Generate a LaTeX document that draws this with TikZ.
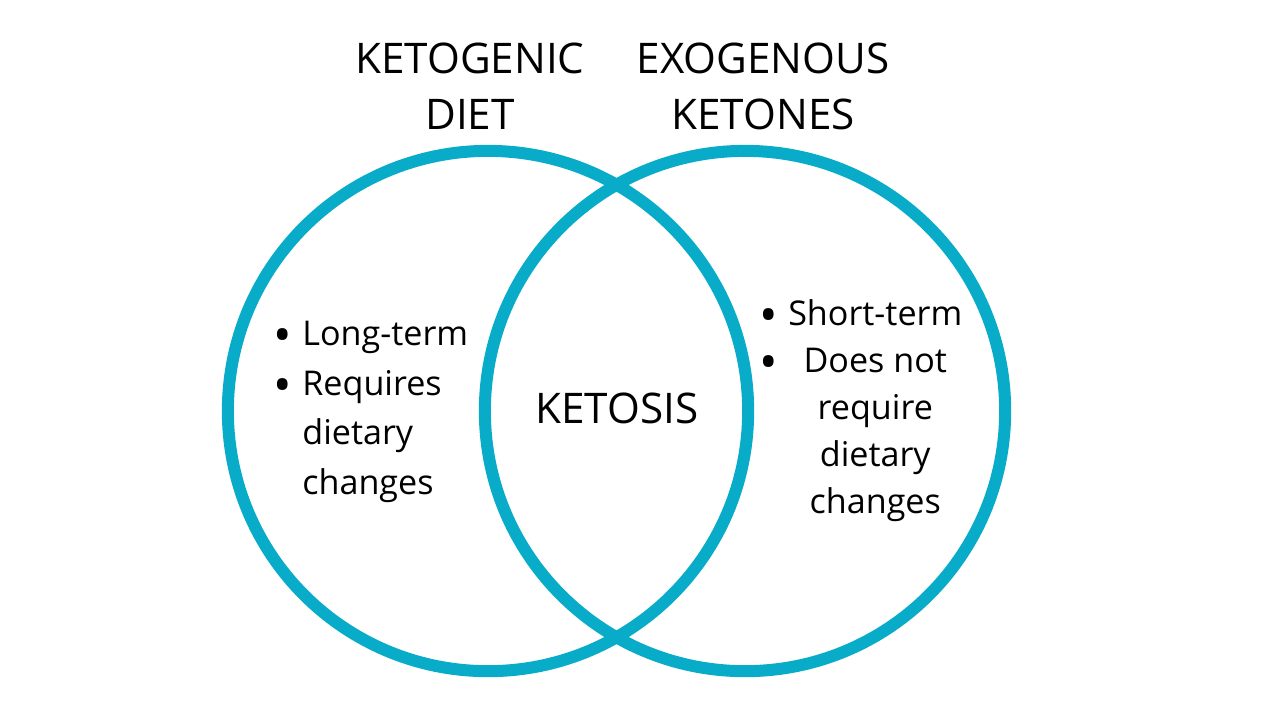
\documentclass[tikz,border=0pt]{standalone}
\usepackage{fontspec}
\setmainfont{Open Sans}
\usetikzlibrary{positioning}
\definecolor{ringblue}{RGB}{8,172,200}
\newcommand\listdot{\raisebox{-2.1pt}{\fontsize{14pt}{14pt}\selectfont •}}

\begin{document}
\begin{tikzpicture}[x=0.01cm,y=-0.01cm,
        ring/.style={circle,draw=ringblue,line width=0.12cm,minimum size=5.2cm,inner sep=0pt},
        title/.style={align=center,font=\fontsize{12pt}{15.9pt}\selectfont},
        points/.style={font=\fontsize{9.7pt}{14.2pt}\selectfont}]
        \useasboundingbox[fill=white] (0,0) rectangle (1280,720);
        \node[ring] (diet) at (488,411) {};
        \node[ring] (exo) at (745,411) {};
        \node[title] (dietname) at (470,86) {KETOGENIC\\DIET};
        \node[title] (exoname) at (763,86) {EXOGENOUS\\KETONES};
        \node[font=\fontsize{12pt}{14pt}\selectfont] (both) at (617,408) {KETOSIS};
        \node[points] (dietlist) at (371,410) {%
            \begin{tabular}{@{}l@{\hspace{0.1cm}}l@{}}
                \listdot & Long-term\\
                \listdot & Requires\\
                  & dietary\\
                  & changes
            \end{tabular}};
        \node[points,font=\fontsize{9.7pt}{13.4pt}\selectfont] (exolist) at (861,410) {%
            \begin{tabular}{@{}l@{\hspace{0.1cm}}c@{}}
                \listdot & Short-term\\
                \listdot & Does not\\
                  & require\\
                  & dietary\\
                  & changes
            \end{tabular}};
\end{tikzpicture}
\end{document}
